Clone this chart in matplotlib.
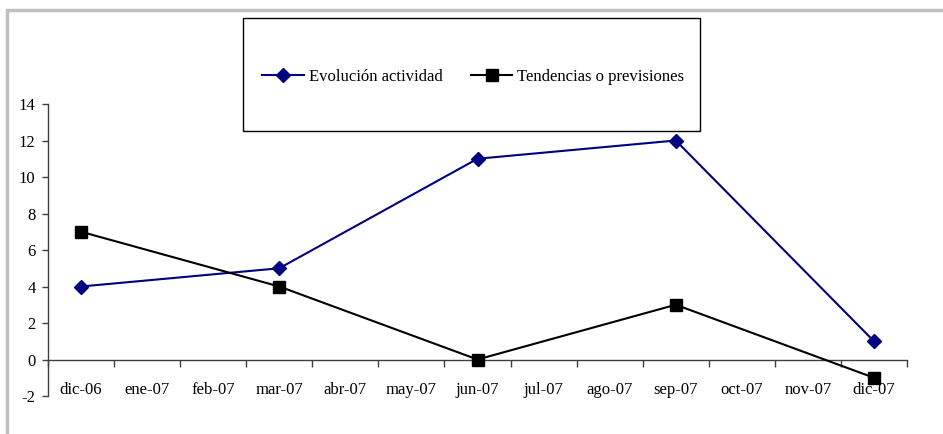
import numpy as np
import matplotlib.pyplot as plt
from matplotlib.patches import Rectangle

months = ["dic-06", "ene-07", "feb-07", "mar-07", "abr-07", "may-07", "jun-07",
          "jul-07", "ago-07", "sep-07", "oct-07", "nov-07", "dic-07"]
actividad = [4, None, None, 5, None, None, 11, None, None, 12, None, None, 1]
tendencias = [7, None, None, 4, None, None, 0, None, None, 3, None, None, -1]
yticks = [-2, 0, 2, 4, 6, 8, 10, 12, 14]

plt.rcParams['font.family'] = ['Liberation Serif', 'DejaVu Serif']
plt.rcParams['axes.unicode_minus'] = False

fig = plt.figure(figsize=(9.43, 4.34), dpi=100)
W, H = 943, 434
ax = fig.add_axes([48 / W, 1 - 396 / H, (907 - 48) / W, (396 - 104) / H])


def points(vals):
    xs = [i for i, v in enumerate(vals) if v is not None]
    ys = [v for v in vals if v is not None]
    return xs, ys


xa, ya = points(actividad)
xt, yt = points(tendencias)
l1, = ax.plot(xa, ya, color="#000080", lw=1.5, marker="D", ms=7.5,
              label="Evolución actividad", zorder=3)
l2, = ax.plot(xt, yt, color="black", lw=1.5, marker="s", ms=9,
              label="Tendencias o previsiones", zorder=3)

ax.set_xlim(-0.5, len(months) - 0.5)
ax.set_ylim(-2, 14)
ax.set_yticks(yticks)
ax.tick_params(axis="y", length=4, width=1, color="#404040", labelsize=12, pad=5)

# category axis crosses at 0, labels sit below
ax.spines["bottom"].set_position(("data", 0))
ax.spines["top"].set_visible(False)
ax.spines["right"].set_visible(False)
for s in ("bottom", "left"):
    ax.spines[s].set_color("#404040")
    ax.spines[s].set_linewidth(1)
ax.set_xticks(range(len(months)))
ax.set_xticklabels(months)
ax.set_xticks(np.arange(-0.5, len(months)), minor=True)
ax.tick_params(axis="x", which="major", length=0, labelsize=12, pad=16)
ax.tick_params(axis="x", which="minor", length=5, width=1, color="#404040")

# outer grey frame of the chart area
fig.patches.append(Rectangle((7.5 / W, -0.1), 1.1, 1 - 10.5 / H + 0.1,
                             transform=fig.transFigure, fill=False,
                             edgecolor="#c0c0c0", lw=2.5))
# legend box
fig.patches.append(Rectangle((243 / W, 1 - 131 / H), (700 - 243) / W, (131 - 18) / H,
                             transform=fig.transFigure, facecolor="white",
                             edgecolor="black", lw=1, zorder=5))
leg = fig.legend(handles=[l1, l2], loc="center left",
                 bbox_to_anchor=(262 / W, 1 - 77 / H), ncol=2, frameon=False,
                 fontsize=12, handlelength=2.5, handletextpad=0.3,
                 columnspacing=1.7, borderpad=0, borderaxespad=0)
leg.set_zorder(6)

fig.savefig("out.png", dpi=100)
